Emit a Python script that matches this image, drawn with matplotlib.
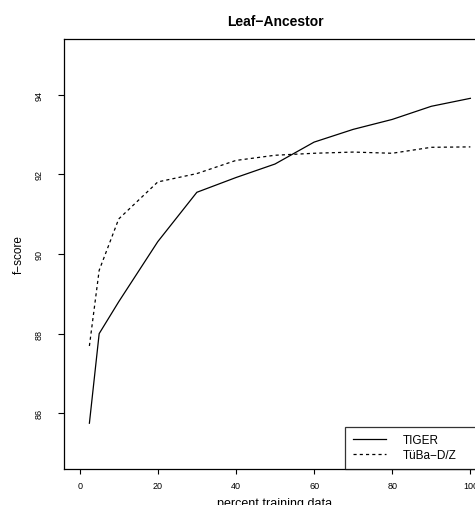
import matplotlib.pyplot as plt

plt.rcParams['font.family'] = ['Liberation Sans', 'DejaVu Sans']

# percent of training data used
percent = [2.5, 5, 10, 20, 30, 40, 50, 60, 70, 80, 90, 100]
tiger = [85.75, 88.0, 88.8, 90.31, 91.55, 91.92, 92.26, 92.81, 93.13, 93.38, 93.71, 93.91]
tueba = [87.69, 89.59, 90.88, 91.81, 92.02, 92.35, 92.48, 92.53, 92.56, 92.53, 92.68, 92.69]

fig = plt.figure(figsize=(4.75, 5.06), dpi=100)
ax = fig.add_axes([64 / 475, 36 / 506, 422 / 475, 430 / 506])

ax.plot(percent, tiger, color='black', lw=0.9, label='TIGER')
ax.plot(percent, tueba, color='black', lw=0.9, dashes=(2.5, 2.5), label='TüBa\u2212D/Z')

ax.set_xlim(-4, 104)
ax.set_ylim(84.6, 95.4)
ax.set_xticks([0, 20, 40, 60, 80, 100])
ax.set_yticks([86, 88, 90, 92, 94])
ax.tick_params(axis='x', labelsize=6.5, length=3.5, width=0.8, pad=5)
ax.tick_params(axis='y', labelsize=6.5, length=4.5, width=0.8, pad=10, labelrotation=90)
for lbl in ax.get_yticklabels():
    lbl.set_va('center')
for s in ax.spines.values():
    s.set_linewidth(0.9)

ax.set_xlabel('percent training data', fontsize=9, labelpad=5)
ax.set_ylabel('f\u2212score', fontsize=8.5, labelpad=7)
ax.set_title('Leaf\u2212Ancestor', fontsize=10, fontweight='bold', pad=10)

# legend box runs from x~345px to the right edge of the plot
leg = ax.legend(loc='lower left', bbox_to_anchor=(281 / 422, 0, 141 / 422, 0.2),
                mode='expand', fontsize=8.5, frameon=True, fancybox=False,
                edgecolor='black', borderaxespad=0, handlelength=2.8,
                labelspacing=0.27, borderpad=0.64, handletextpad=1.45)
leg.get_frame().set_linewidth(0.9)

fig.savefig('out.png', dpi=100)
